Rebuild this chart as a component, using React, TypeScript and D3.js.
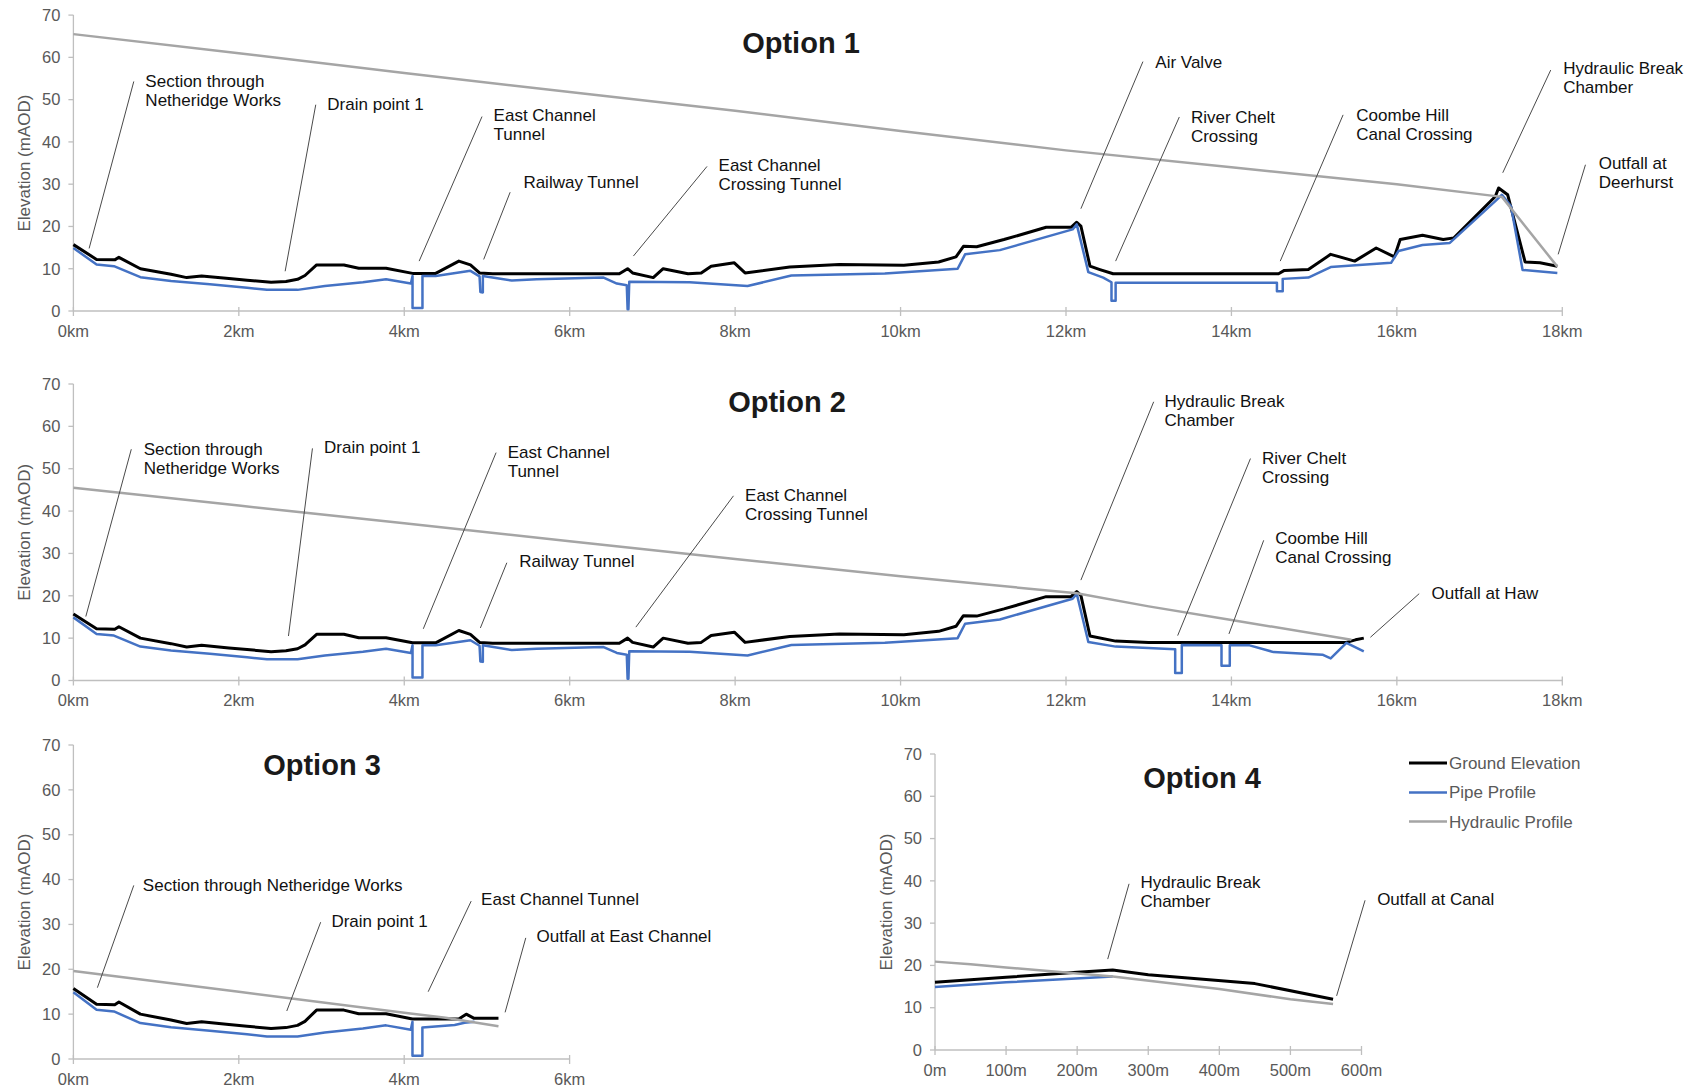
import React from 'react';
import * as d3 from 'd3';

type P = [number, number];

// ---------- DATA (km / m, elevation mAOD) ----------
const groundHead: P[] = [[0,15.7],[0.28,12.2],[0.5,12.1],[0.55,12.7],[0.81,10.0],[1.18,8.7],[1.37,7.9],[1.55,8.3],[1.88,7.7],[2.1,7.3],[2.39,6.8],[2.57,7.0],[2.71,7.5],[2.8,8.4],[2.94,10.9],[3.27,10.9],[3.45,10.1],[3.78,10.1],[4.1,8.9]];
const groundMid: P[] = [[4.38,8.9],[4.66,11.8],[4.8,10.9],[4.91,9.0],[5.07,8.8],[6.6,8.8],[6.7,10.0],[6.76,9.0],[7.01,7.9],[7.13,10.0],[7.43,8.8],[7.59,9.0],[7.71,10.6],[7.99,11.4],[8.12,9.0],[8.66,10.4],[9.26,11.0],[10.04,10.8],[10.46,11.6],[10.67,12.8],[10.76,15.3],[10.92,15.2],[11.25,16.9],[11.76,19.8],[12.06,19.8],[12.13,21.0],[12.18,20.1]];
const groundTail1: P[] = [[12.29,10.6],[12.41,9.8],[12.57,8.8],[14.57,8.8],[14.64,9.6],[14.93,9.8],[15.2,13.4],[15.49,11.8],[15.75,14.9],[15.97,12.8],[16.04,16.9],[16.31,17.9],[16.56,16.9],[16.69,17.3],[17.19,27.1],[17.23,29.1],[17.34,27.5],[17.55,11.6],[17.73,11.4],[17.94,10.6]];
const groundTail2: P[] = [[12.29,10.5],[12.6,9.3],[13.0,9.0],[15.39,9.0],[15.5,9.6],[15.6,10.0]];
const groundTail3: P[] = [[4.38,8.9],[4.66,8.9],[4.75,10.0],[4.84,9.1],[5.14,9.1]];

const pipeHead: P[] = [[0,14.9],[0.28,11.0],[0.49,10.6],[0.81,8.0],[1.18,7.1],[1.65,6.3],[2.1,5.5],[2.34,5.0],[2.71,5.0],[3.04,5.9],[3.5,6.8],[3.78,7.5],[4.08,6.5],[4.1,8.3],[4.1,0.7],[4.22,0.7]];
const pipeMid: P[] = [[4.22,8.3],[4.38,8.3],[4.8,9.5],[4.91,8.2],[4.92,4.5],[4.95,4.4],[4.95,8.3],[5.3,7.2],[5.6,7.5],[6.41,7.9],[6.57,6.5],[6.69,6.1],[6.7,0.4],[6.71,0.4],[6.72,6.9],[7.45,6.8],[8.15,5.9],[8.68,8.4],[9.81,8.9],[10.69,10.0],[10.78,13.4],[11.2,14.4],[12.08,19.3],[12.13,20.5]];
const pipeTail1: P[] = [[12.27,9.2],[12.45,7.9],[12.55,6.8],[12.55,2.4],[12.6,2.4],[12.6,6.7],[14.55,6.7],[14.55,4.7],[14.62,4.7],[14.62,7.6],[14.93,7.9],[15.2,10.4],[15.93,11.4],[16.02,14.2],[16.31,15.6],[16.64,16.1],[17.19,26.0],[17.27,27.5],[17.38,24.8],[17.52,9.7],[17.94,9.0]];
const pipeTail2: P[] = [[12.27,9.1],[12.6,8.0],[13.32,7.4],[13.32,1.8],[13.4,1.8],[13.4,8.4],[13.88,8.3],[13.88,3.5],[13.98,3.5],[13.98,8.3],[14.22,8.3],[14.51,6.7],[15.1,6.1],[15.2,5.2],[15.39,8.9],[15.6,6.9]];
const pipeTail3: P[] = [[4.22,7.0],[4.61,7.6],[4.73,8.1],[4.85,8.3]];

const hydraulic1: P[] = [[0,65.5],[2,61.0],[4,56.3],[6,51.8],[8,47.4],[10,42.6],[12,38.0],[14,34.0],[16,30.0],[17.27,27.0],[17.94,10.5]];
const hydraulic2: P[] = [[0,45.5],[2,41.3],[4,37.1],[6,32.9],[8,28.7],[10,24.6],[12.13,20.6],[13,17.5],[14,14.3],[15.45,9.6]];
const hydraulic3: P[] = [[0,19.6],[2,15.0],[4,10.3],[4.5,9.2],[5.14,7.3]];

const ground4: P[] = [[0,16.0],[100,17.2],[200,18.4],[250,18.9],[300,17.8],[450,15.7],[560,12.0]];
const pipe4: P[] = [[0,14.9],[100,16.0],[250,17.4]];
const hydraulic4: P[] = [[0,20.9],[50,20.3],[100,19.5],[250,17.4],[400,14.4],[500,12.0],[560,10.9]];

const yTicks = [0, 10, 20, 30, 40, 50, 60, 70];
const xTicksKm18 = [0, 2, 4, 6, 8, 10, 12, 14, 16, 18];
const xTicksKm6 = [0, 2, 4, 6];
const xTicksM = [0, 100, 200, 300, 400, 500, 600];

const legendLabels = ['Ground Elevation', 'Pipe Profile', 'Hydraulic Profile'];
const titles = ['Option 1', 'Option 2', 'Option 3', 'Option 4'];

type Ann = { text: string[]; tx: number; ty: number; lx1: number; ly1: number; lx2: number; ly2: number };
const ann1: Ann[] = [
  { text: ['Section through', 'Netheridge Works'], tx: 0.87, ty: 54.4, lx1: 0.73, ly1: 54.3, lx2: 0.19, ly2: 14.8 },
  { text: ['Drain point 1'], tx: 3.07, ty: 48.9, lx1: 2.93, ly1: 48.8, lx2: 2.56, ly2: 9.4 },
  { text: ['East Channel', 'Tunnel'], tx: 5.08, ty: 46.4, lx1: 4.94, ly1: 46, lx2: 4.18, ly2: 11.8 },
  { text: ['Railway Tunnel'], tx: 5.44, ty: 30.4, lx1: 5.28, ly1: 28.1, lx2: 4.96, ly2: 12.2 },
  { text: ['East Channel', 'Crossing Tunnel'], tx: 7.8, ty: 34.5, lx1: 7.66, ly1: 34.2, lx2: 6.77, ly2: 13 },
  { text: ['Air Valve'], tx: 13.08, ty: 59, lx1: 12.93, ly1: 59, lx2: 12.18, ly2: 24.2 },
  { text: ['River Chelt', 'Crossing'], tx: 13.51, ty: 45.9, lx1: 13.37, ly1: 45.9, lx2: 12.6, ly2: 11.8 },
  { text: ['Coombe Hill', 'Canal Crossing'], tx: 15.51, ty: 46.4, lx1: 15.35, ly1: 46.4, lx2: 14.59, ly2: 11.8 },
  { text: ['Hydraulic Break', 'Chamber'], tx: 18.01, ty: 57.4, lx1: 17.86, ly1: 57, lx2: 17.28, ly2: 32.7 },
  { text: ['Outfall at', 'Deerhurst'], tx: 18.44, ty: 34.9, lx1: 18.28, ly1: 34.6, lx2: 17.95, ly2: 13.4 },
];
const ann2: Ann[] = [
  { text: ['Section through', 'Netheridge Works'], tx: 0.85, ty: 54.6, lx1: 0.7, ly1: 54.6, lx2: 0.15, ly2: 15.1 },
  { text: ['Drain point 1'], tx: 3.03, ty: 55.0, lx1: 2.89, ly1: 54.8, lx2: 2.6, ly2: 10.5 },
  { text: ['East Channel', 'Tunnel'], tx: 5.25, ty: 54.0, lx1: 5.11, ly1: 53.8, lx2: 4.23, ly2: 12.2 },
  { text: ['Railway Tunnel'], tx: 5.39, ty: 28.2, lx1: 5.24, ly1: 27.8, lx2: 4.92, ly2: 12.4 },
  { text: ['East Channel', 'Crossing Tunnel'], tx: 8.12, ty: 43.7, lx1: 7.98, ly1: 43.6, lx2: 6.8, ly2: 12.6 },
  { text: ['Hydraulic Break', 'Chamber'], tx: 13.19, ty: 66.0, lx1: 13.06, ly1: 65.8, lx2: 12.18, ly2: 23.7 },
  { text: ['River Chelt', 'Crossing'], tx: 14.37, ty: 52.6, lx1: 14.23, ly1: 52.4, lx2: 13.35, ly2: 10.6 },
  { text: ['Coombe Hill', 'Canal Crossing'], tx: 14.53, ty: 33.6, lx1: 14.39, ly1: 33.1, lx2: 13.97, ly2: 11.0 },
  { text: ['Outfall at Haw'], tx: 16.42, ty: 20.7, lx1: 16.27, ly1: 20.5, lx2: 15.68, ly2: 10.2 },
];
const ann3: Ann[] = [
  { text: ['Section through Netheridge Works'], tx: 0.84, ty: 38.8, lx1: 0.73, ly1: 38.7, lx2: 0.29, ly2: 15.9 },
  { text: ['Drain point 1'], tx: 3.12, ty: 30.8, lx1: 2.99, ly1: 30.5, lx2: 2.58, ly2: 10.7 },
  { text: ['East Channel Tunnel'], tx: 4.93, ty: 35.6, lx1: 4.81, ly1: 35.2, lx2: 4.29, ly2: 15.0 },
  { text: ['Outfall at East Channel'], tx: 5.6, ty: 27.3, lx1: 5.47, ly1: 27.0, lx2: 5.22, ly2: 10.4 },
];
const ann4: Ann[] = [
  { text: ['Hydraulic Break', 'Chamber'], tx: 289, ty: 39.6, lx1: 273, ly1: 39.3, lx2: 243, ly2: 21.5 },
  { text: ['Outfall at Canal'], tx: 622, ty: 35.6, lx1: 605, ly1: 35.4, lx2: 565, ly2: 12.8 },
];

// ---------- STYLE ----------
const FONT = '"Liberation Sans", Arial, Helvetica, sans-serif';
const C_GROUND = '#000000';
const C_PIPE = '#4472C4';
const C_HYD = '#A5A5A5';
const C_AXIS = '#BFBFBF';
const C_TICK = '#595959';

type Panel = {
  title: string; titleX: number; titleY: number;
  xDomain: [number, number]; xRange: [number, number];
  yRange: [number, number];
  xTicks: number[]; unit: string;
  ground: P[]; pipe: P[]; hyd: P[]; ann: Ann[];
};

const panels: Panel[] = [
  { title: titles[0], titleX: 801, titleY: 43, xDomain: [0, 18], xRange: [73.4, 1562.3], yRange: [311, 15.1], xTicks: xTicksKm18, unit: 'km',
    ground: [...groundHead, ...groundMid, ...groundTail1], pipe: [...pipeHead, ...pipeMid, ...pipeTail1], hyd: hydraulic1, ann: ann1 },
  { title: titles[1], titleX: 787, titleY: 402, xDomain: [0, 18], xRange: [73.4, 1562.3], yRange: [680.5, 384], xTicks: xTicksKm18, unit: 'km',
    ground: [...groundHead, ...groundMid, ...groundTail2], pipe: [...pipeHead, ...pipeMid, ...pipeTail2], hyd: hydraulic2, ann: ann2 },
  { title: titles[2], titleX: 322, titleY: 765, xDomain: [0, 6], xRange: [73.4, 569.6], yRange: [1059, 745], xTicks: xTicksKm6, unit: 'km',
    ground: [...groundHead, ...groundTail3], pipe: [...pipeHead, ...pipeTail3], hyd: hydraulic3, ann: ann3 },
  { title: titles[3], titleX: 1202, titleY: 778, xDomain: [0, 600], xRange: [935, 1361.5], yRange: [1050, 754], xTicks: xTicksM, unit: 'm',
    ground: ground4, pipe: pipe4, hyd: hydraulic4, ann: ann4 },
];

function PanelView({ p }: { p: Panel }) {
  const x = d3.scaleLinear().domain(p.xDomain).range(p.xRange);
  const y = d3.scaleLinear().domain([0, 70]).range(p.yRange);
  const line = d3.line<P>().x(d => x(d[0])).y(d => y(d[1]));
  const x0 = p.xRange[0];
  const yb = y(0);
  return (
    <g>
      <line x1={x0} x2={x0} y1={y(70)} y2={yb} stroke={C_AXIS} strokeWidth={1.3} />
      <line x1={x0} x2={x(p.xDomain[1])} y1={yb} y2={yb} stroke={C_AXIS} strokeWidth={1.3} />
      {yTicks.map(t => (
        <g key={'y' + t}>
          <line x1={x0 - 5} x2={x0} y1={y(t)} y2={y(t)} stroke={C_AXIS} strokeWidth={1.3} />
          <text x={x0 - 13} y={y(t)} dy="0.35em" textAnchor="end" fontSize={16.5} fill={C_TICK} fontFamily={FONT}>{t}</text>
        </g>
      ))}
      {p.xTicks.map(t => (
        <g key={'x' + t}>
          <line x1={x(t)} x2={x(t)} y1={yb - 4} y2={yb + 5} stroke={C_AXIS} strokeWidth={1.3} />
          <text x={x(t)} y={yb + 20} dy="0.35em" textAnchor="middle" fontSize={16.5} fill={C_TICK} fontFamily={FONT}>{t + p.unit}</text>
        </g>
      ))}
      <text transform={`translate(${x0 - 49},${(y(0) + y(70)) / 2}) rotate(-90)`} textAnchor="middle" dy="0.35em" fontSize={17} fill={C_TICK} fontFamily={FONT}>Elevation (mAOD)</text>
      <path d={line(p.ground) || ''} fill="none" stroke={C_GROUND} strokeWidth={3} strokeLinejoin="round" />
      <path d={line(p.pipe) || ''} fill="none" stroke={C_PIPE} strokeWidth={2.5} strokeLinejoin="round" />
      <path d={line(p.hyd) || ''} fill="none" stroke={C_HYD} strokeWidth={2.5} strokeLinejoin="round" />
      {p.ann.map((a, i) => (
        <g key={'a' + i}>
          <line x1={x(a.lx1)} y1={y(a.ly1)} x2={x(a.lx2)} y2={y(a.ly2)} stroke="#4a4a4a" strokeWidth={1} />
          {a.text.map((t, j) => (
            <text key={j} x={x(a.tx)} y={y(a.ty) + j * 19} dy="0.35em" fontSize={17} fill="#111" fontFamily={FONT}>{t}</text>
          ))}
        </g>
      ))}
      <text x={p.titleX} y={p.titleY} dy="0.35em" textAnchor="middle" fontSize={29} fontWeight="bold" fill="#1a1a1a" fontFamily={FONT}>{p.title}</text>
    </g>
  );
}

export default function App() {
  const legendColors = [C_GROUND, C_PIPE, C_HYD];
  const legendWidths = [3, 2.5, 2.5];
  const legendY = [763, 792.5, 821.6];
  return (
    <svg width={1693} height={1091} style={{ position: 'absolute', left: 0, top: 0, background: '#fff', display: 'block' }}>
      <rect x={0} y={0} width={1693} height={1091} fill="#fff" />
      {panels.map((p, i) => <PanelView key={i} p={p} />)}
      {legendLabels.map((l, i) => (
        <g key={l}>
          <line x1={1409} x2={1447} y1={legendY[i]} y2={legendY[i]} stroke={legendColors[i]} strokeWidth={legendWidths[i]} />
          <text x={1449} y={legendY[i]} dy="0.35em" fontSize={17} fill={C_TICK} fontFamily={FONT}>{l}</text>
        </g>
      ))}
    </svg>
  );
}
